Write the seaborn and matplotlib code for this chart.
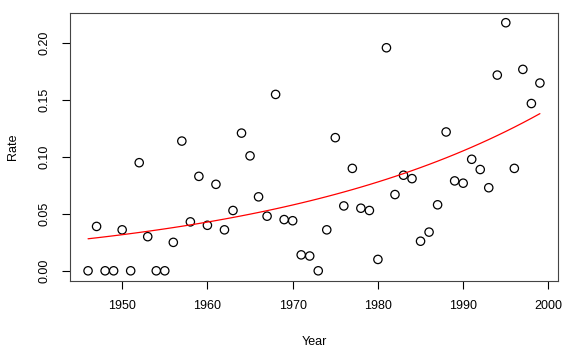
import numpy as np
import pandas as pd
import matplotlib
matplotlib.use("Agg")
import matplotlib.pyplot as plt
import seaborn as sb

years = list(range(1946, 2000))
rates = [0.000, 0.039, 0.000, 0.000, 0.036, 0.000, 0.095, 0.030, 0.000, 0.000,
         0.025, 0.114, 0.043, 0.083, 0.040, 0.076, 0.036, 0.053, 0.121, 0.101,
         0.065, 0.048, 0.155, 0.045, 0.044, 0.014, 0.013, 0.000, 0.036, 0.117,
         0.057, 0.090, 0.055, 0.053, 0.010, 0.196, 0.067, 0.084, 0.081, 0.026,
         0.034, 0.058, 0.122, 0.079, 0.077, 0.098, 0.089, 0.073, 0.172, 0.218,
         0.090, 0.177, 0.147, 0.165]
xticks = [1950, 1960, 1970, 1980, 1990, 2000]
yticks = [0.00, 0.05, 0.10, 0.15, 0.20]

df = pd.DataFrame({"Year": years, "Rate": rates})

# log-linear (poisson style) fit of rate on year, by IRLS
X = np.column_stack([np.ones(len(df)), df["Year"] - 1946])
y = df["Rate"].to_numpy()
beta = np.array([np.log(y.mean()), 0.0])
for _ in range(50):
    mu = np.exp(X @ beta)
    z = X @ beta + (y - mu) / mu
    W = mu
    beta = np.linalg.solve(X.T @ (W[:, None] * X), X.T @ (W * z))
df["Fit"] = np.exp(X @ beta)

sb.set_style("ticks")
plt.rcParams["font.family"] = ["Liberation Sans", "DejaVu Sans"]
plt.rcParams["text.color"] = "black"
plt.rcParams["xtick.labelcolor"] = "black"
plt.rcParams["ytick.labelcolor"] = "black"
plt.rcParams["axes.labelcolor"] = "black"

fig = plt.figure(figsize=(5.75, 3.56), dpi=100)
ax = fig.add_axes([0.1217, 0.2115, 0.9704 - 0.1217, 0.9643 - 0.2115])

sb.scatterplot(data=df, x="Year", y="Rate", ax=ax, marker="o", s=36,
               facecolor="none", edgecolor="black", linewidth=0.9)
sb.lineplot(data=df, x="Year", y="Fit", ax=ax, color="red", linewidth=0.9)

ax.set_xlim(1943.88, 2001.12)
ax.set_ylim(-0.0087, 0.2268)
ax.set_xticks(xticks)
ax.set_yticks(yticks)
ax.set_yticklabels([f"{v:.2f}" for v in yticks], rotation=90, va="center")
ax.tick_params(axis="both", length=6, width=0.8, color="black", labelsize=9,
               pad=8)
for sp in ax.spines.values():
    sp.set_visible(True)
    sp.set_color("#444444")
    sp.set_linewidth(0.8)
ax.set_xlabel("Year", fontsize=9, labelpad=17)
ax.set_ylabel("Rate", fontsize=9, labelpad=14)
ax.grid(False)

fig.savefig("out.png", dpi=100)
